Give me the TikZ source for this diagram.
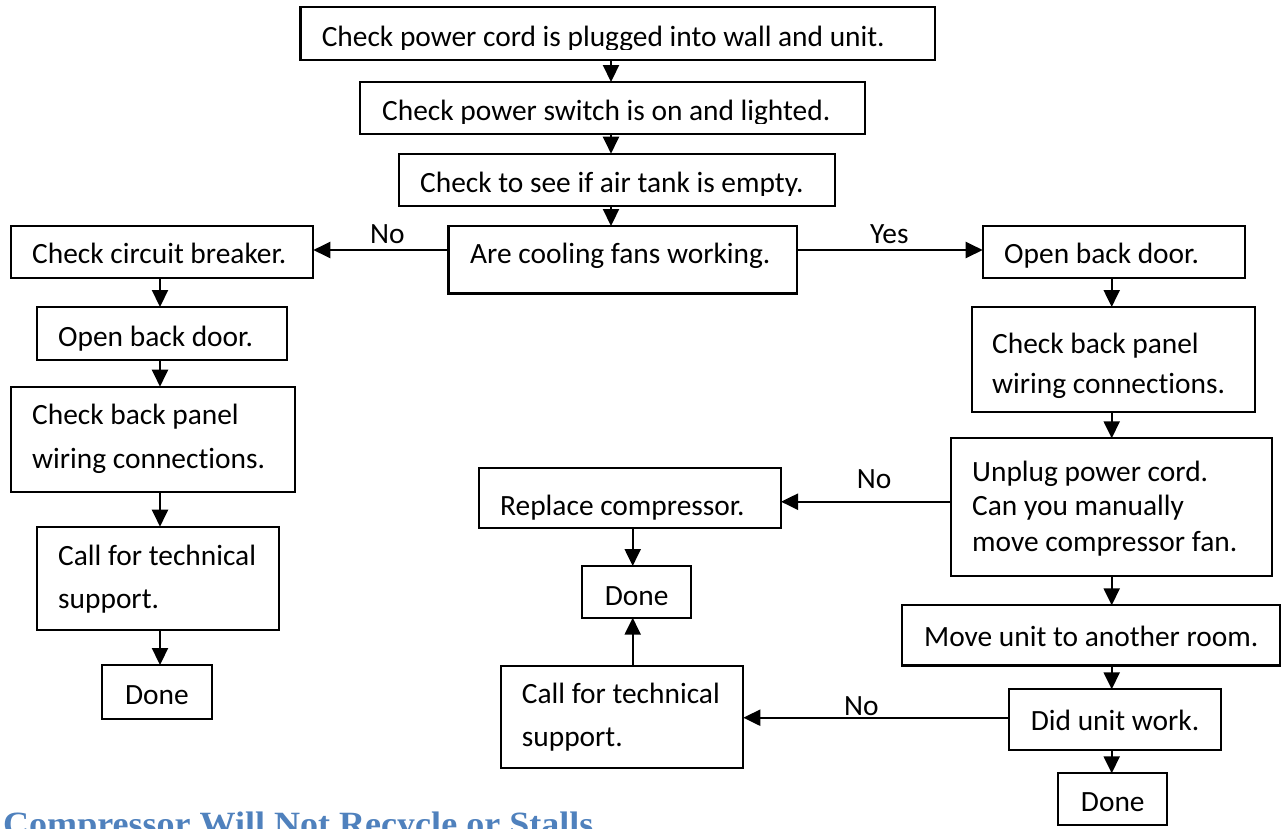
\documentclass[tikz,border=0pt]{standalone}
\usepackage{fontspec}
\usetikzlibrary{arrows.meta,fit}
\newfontfamily\bxfam{Carlito}[Ligatures={NoCommon}]
\newfontfamily\ttlfam{Liberation Serif}
\newcommand\bxfont{\bxfam\fontsize{29.4}{35}\selectfont}
\newcommand\ttlfont{\ttlfam\bfseries\fontsize{34}{40}\selectfont}
\definecolor{headblue}{HTML}{4F81BD}
\begin{document}
\begin{tikzpicture}[x=1pt,y=-1pt,
  box/.style={draw, line width=2.2pt, inner sep=0pt, outer sep=0pt},
  txt/.style={anchor=base west, inner sep=0pt, font=\bxfont},
  ctxt/.style={anchor=base, inner sep=0pt, font=\bxfont},
  arr/.style={line width=2.2pt, -{Triangle[length=17pt,width=16pt]}}]
\useasboundingbox (0,0) rectangle (1281,828);
% ---- boxes
\node[box, fit={(300.5,7.3) (935,60)}] (b1) {};
\node[box, fit={(360,82) (865,134)}] (b2) {};
\node[box, fit={(398.6,153.7) (835,206)}] (b3) {};
\node[box, fit={(448.5,226) (797,293.5)}] (b4) {};
\node[box, fit={(10.7,226) (313.3,277.7)}] (l1) {};
\node[box, fit={(36.7,307) (287,360)}] (l2) {};
\node[box, fit={(10.7,386.7) (295,491.7)}] (l3) {};
\node[box, fit={(36.7,526.7) (279,630)}] (l4) {};
\node[box, fit={(102,665) (211.7,719)}] (l5) {};
\node[box, fit={(479,467.7) (781,528.3)}] (m1) {};
\node[box, fit={(582.3,566) (691,617.7)}] (m2) {};
\node[box, fit={(500.7,666) (743.3,768.3)}] (m3) {};
\node[box, fit={(982.7,225.7) (1245,278)}] (r1) {};
\node[box, fit={(971.7,307) (1255,411.7)}] (r2) {};
\node[box, fit={(950.7,438.3) (1271.7,576)}] (r3) {};
\node[box, fit={(902.3,605.3) (1279.8,665.5)}] (r4) {};
\node[box, fit={(1009,689.3) (1220.7,750)}] (r5) {};
\node[box, fit={(1058.3,773.3) (1167.3,825)}] (r6) {};
% ---- texts (descenders clipped in the top three boxes)
\begin{scope}
\clip (300,7) rectangle (935,49.7);
\node[txt] (t1) at (321.6,46.7) {Check power cord is plugged into wall and unit.};
\end{scope}
\begin{scope}
\clip (360,82) rectangle (865,123.7);
\node[txt] (t2) at (382,120.7) {Check power switch is on and lighted.};
\end{scope}
\begin{scope}
\clip (398,153) rectangle (835,195.7);
\node[txt] (t3) at (420,192.7) {Check to see if air tank is empty.};
\end{scope}
\node[txt] (t4) at (470,263) {Are cooling fans working.};
\node[txt] (tl1) at (32,263.3) {Check circuit breaker.};
\node[txt] (tl2) at (58,346.7) {Open back door.};
\node[txt] (tl3a) at (32,424) {Check back panel};
\node[txt] (tl3b) at (32,468) {wiring connections.};
\node[txt] (tl4a) at (58,565) {Call for technical};
\node[txt] (tl4b) at (58,608) {support.};
\node[ctxt] (tl5) at (156.9,704) {Done};
\node[txt] (tm1) at (500,515) {Replace compressor.};
\node[ctxt] (tm2) at (636.6,605) {Done};
\node[txt] (tm3a) at (521.7,703.3) {Call for technical};
\node[txt] (tm3b) at (521.7,746.7) {support.};
\node[txt] (tr1) at (1004,263.3) {Open back door.};
\node[txt] (tr2a) at (992,353) {Check back panel};
\node[txt] (tr2b) at (992,393) {wiring connections.};
\node[txt] (tr3a) at (972,481) {Unplug power cord.};
\node[txt] (tr3b) at (972,515) {Can you manually};
\node[txt] (tr3c) at (972,551.7) {move compressor fan.};
\node[txt] (tr4) at (924,646.7) {Move unit to another room.};
\node[txt] (tr5) at (1030.7,730) {Did unit work.};
\node[ctxt] (tr6) at (1112.8,811.7) {Done};
% ---- connector guides
\coordinate (cx) at (611,0);
\coordinate (lx) at (160,0);
\coordinate (mx) at (632.7,0);
\coordinate (rx) at (1111.7,0);
\coordinate (ya) at (0,250);
\coordinate (yb) at (0,501.7);
\coordinate (yc) at (0,717.7);
% ---- connectors
\draw[arr] (b1.south -| cx) -- (b2.north -| cx);
\draw[arr] (b2.south -| cx) -- (b3.north -| cx);
\draw[arr] (b3.south -| cx) -- (b4.north -| cx);
\draw[arr] (b4.west |- ya) -- (l1.east |- ya);
\draw[arr] (b4.east |- ya) -- (r1.west |- ya);
\draw[arr] (l1.south -| lx) -- (l2.north -| lx);
\draw[arr] (l2.south -| lx) -- (l3.north -| lx);
\draw[arr] (l3.south -| lx) -- (l4.north -| lx);
\draw[arr] (l4.south -| lx) -- (l5.north -| lx);
\draw[arr] (r1.south -| rx) -- (r2.north -| rx);
\draw[arr] (r2.south -| rx) -- (r3.north -| rx);
\draw[arr] (r3.south -| rx) -- (r4.north -| rx);
\draw[arr] (r4.south -| rx) -- (r5.north -| rx);
\draw[arr] (r5.south -| rx) -- (r6.north -| rx);
\draw[arr] (r3.west |- yb) -- (m1.east |- yb);
\draw[arr] (r5.west |- yc) -- (m3.east |- yc);
\draw[arr] (m1.south -| mx) -- (m2.north -| mx);
\draw[arr] (m3.north -| mx) -- (m2.south -| mx);
% ---- connector labels
\node[txt] (no1) at (370,243) {No};
\node[txt] (yes1) at (870,243) {Yes};
\node[txt] (no2) at (856.7,488.3) {No};
\node[txt] (no3) at (844,715) {No};
% ---- heading (cut off by the page edge)
\node[anchor=base west, inner sep=0pt, font=\ttlfont, text=headblue] (title) at (3,835) {\scalebox{1.06}[1]{Compressor Will Not Recycle or Stalls}};
\end{tikzpicture}
\end{document}
